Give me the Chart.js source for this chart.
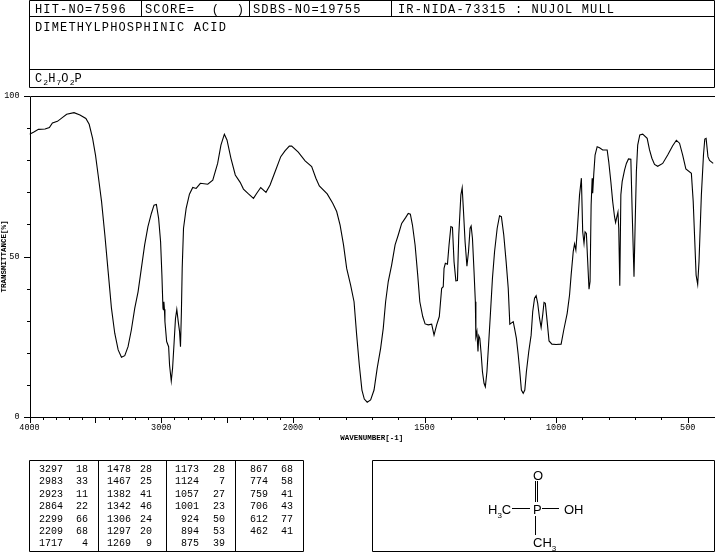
<!DOCTYPE html>
<html>
<head>
<meta charset="utf-8">
<script src="https://cdn.jsdelivr.net/npm/chart.js@4/dist/chart.umd.min.js"></script>
<style>
html, body { margin: 0; padding: 0; background: #fff; overflow: hidden; }
#wrap { position: relative; width: 715px; height: 553px; }
canvas, svg { position: absolute; left: 0; top: 0; }
.t { position: absolute; white-space: pre; color: #000; line-height: 12px; }
.head { font: 12px "Liberation Mono", monospace; letter-spacing: 1.15px; }
.num { font: 10px "Liberation Mono", monospace; text-align: right; width: 40px; }
.mol { font: 13px "Liberation Sans", sans-serif; }
sub { font-size: 8px; line-height: 0; letter-spacing: 0; }
</style>
</head>
<body>
<div id="wrap">
<canvas id="grafico" width="715" height="553"></canvas>
<svg width="715" height="553" fill="none" stroke="#000" stroke-width="1">
  <!-- header boxes -->
  <path d="M29.5 0.5H714.5V87.5H29.5Z M29.5 16.5H714.5 M29.5 69.5H714.5 M141.5 0.5V16.5 M249.5 0.5V16.5 M391.5 0.5V16.5"/>
  <!-- peak table -->
  <path d="M29.5 460.5H303.5V551.5H29.5Z M98.5 460.5V551.5 M166.5 460.5V551.5 M235.5 460.5V551.5"/>
  <!-- structure -->
  <path d="M372.5 460.5H714.5V551.5H372.5Z"/>
  <path d="M535.5 481V502 M537.5 481V502 M512 508.5H530 M542 508.5H559 M535.5 516V535"/>
</svg>
</div>
<script>
var numeros = ['4000', '3000', '2000', '1500', '1000', '500'];
var marcasY = [0, 10, 20, 30, 40, 50, 60, 70, 80, 90, 100];
var rotulosY = [0, 50, 100];

var cabecalho = ['HIT-NO=7596', 'SCORE=  (  )', 'SDBS-NO=19755', 'IR-NIDA-73315 : NUJOL MULL'];
var nome = 'DIMETHYLPHOSPHINIC ACID';
var formula = 'C<sub>2</sub>H<sub>7</sub>O<sub>2</sub>P';

var picosNumero = [
	[3297, 2983, 2923, 2864, 2299, 2209, 1717],
	[1478, 1467, 1382, 1342, 1306, 1297, 1269],
	[1173, 1124, 1057, 1001, 924, 894, 875],
	[867, 774, 759, 706, 612, 462]
];
var picosValor = [
	[18, 33, 11, 22, 66, 68, 4],
	[28, 25, 41, 46, 24, 20, 9],
	[28, 7, 27, 23, 50, 53, 39],
	[68, 58, 41, 43, 77, 41]
];

// curve
var numeroOnda = [
	4000, 3970, 3932, 3882, 3849, 3826, 3788, 3756, 3718, 3662, 3617, 3572, 3547, 3521, 3499, 3479, 3453, 3428, 3403, 3378,
	3353, 3327, 3302, 3277, 3252, 3227, 3201, 3176, 3151, 3126, 3101, 3075, 3055, 3037, 3020, 3005, 2995, 2987, 2984, 2980,
	2976, 2972, 2959, 2944, 2937, 2924, 2914, 2902, 2892, 2882, 2871, 2861, 2854, 2847, 2841, 2831, 2811, 2786, 2761, 2735,
	2703, 2647, 2609, 2572, 2547, 2521, 2501, 2471, 2438, 2401, 2376, 2338, 2300, 2275, 2245, 2205, 2174, 2136, 2093, 2061,
	2028, 2010, 1980, 1954, 1929, 1913, 1900, 1870, 1849, 1834, 1821, 1808, 1796, 1781, 1768, 1758, 1748, 1738, 1729, 1718,
	1705, 1692, 1680, 1667, 1657, 1648, 1638, 1625, 1612, 1600, 1587, 1572, 1562, 1554, 1546, 1536, 1526, 1518, 1507, 1498,
	1486, 1473, 1464, 1454, 1444, 1435, 1429, 1426, 1421, 1413, 1407, 1400, 1394, 1388, 1381, 1375, 1370, 1362, 1357, 1352,
	1346, 1339, 1333, 1327, 1323, 1318, 1312, 1307, 1305, 1301, 1297, 1294, 1290, 1285, 1280, 1274, 1269, 1263, 1256, 1250,
	1242, 1234, 1224, 1215, 1208, 1199, 1190, 1182, 1176, 1168, 1163, 1158, 1151, 1144, 1138, 1132, 1125, 1119, 1113, 1104,
	1095, 1089, 1082, 1076, 1070, 1063, 1057, 1051, 1046, 1041, 1034, 1027, 1016, 1000, 981, 971, 958, 949, 943, 935,
	930, 925, 919, 911, 904, 899, 894, 890, 885, 880, 875, 871, 867, 863, 861, 857, 852, 844, 835, 823,
	806, 800, 792, 785, 778, 774, 769, 765, 762, 758, 754, 749, 740, 733, 725, 716, 711, 704, 700, 695,
	690, 682, 671, 654, 645, 636, 626, 614, 595, 576, 557, 543, 531, 519, 507, 486, 479, 474, 468, 462,
	457, 448, 440, 435, 430, 423, 417, 403
];
var transmitancia = [
	88.1, 88.7, 89.6, 89.7, 90.2, 91.6, 92.1, 93.1, 94.3, 94.8, 94.1, 93.0, 91.2, 86.8, 81.6, 75.4, 67.1, 56.7, 45.3, 33.9,
	26.1, 20.9, 18.6, 19.1, 21.9, 27.1, 33.9, 39.0, 46.3, 53.6, 59.3, 63.4, 66.0, 66.2, 61.9, 54.6, 44.2, 33.9, 33.4, 35.9,
	33.6, 29.7, 23.5, 21.9, 16.2, 11.2, 15.2, 23.5, 30.7, 33.5, 29.7, 26.6, 21.9, 32.8, 46.3, 58.8, 65.0, 69.4, 71.5, 71.2,
	72.8, 72.5, 73.8, 79.0, 84.7, 88.1, 86.3, 80.6, 75.4, 73.1, 71.0, 69.5, 68.1, 69.7, 71.5, 70.0, 72.3, 76.4, 81.1, 82.9,
	84.4, 84.4, 82.5, 79.8, 78.0, 74.4, 72.0, 69.5, 66.6, 64.0, 59.8, 53.6, 46.3, 41.1, 35.9, 25.5, 16.2, 8.4, 5.6, 4.6,
	5.3, 8.4, 15.2, 21.4, 27.6, 35.9, 42.2, 47.4, 53.6, 56.7, 60.3, 62.1, 63.4, 63.2, 59.8, 53.6, 44.2, 35.9, 31.3, 29.0,
	28.7, 28.9, 25.5, 28.7, 31.3, 40.1, 40.6, 46.3, 47.9, 47.6, 53.6, 59.3, 59.1, 48.4, 42.4, 42.5, 56.7, 69.2, 71.4, 64.0,
	54.6, 47.0, 51.5, 58.8, 59.5, 55.7, 45.3, 35.9, 25.0, 26.6, 20.4, 25.3, 24.5, 19.8, 14.1, 10.5, 9.4, 14.1, 23.5, 31.8,
	43.2, 51.5, 58.8, 62.7, 62.4, 56.7, 48.4, 40.1, 28.9, 29.4, 29.7, 27.6, 24.5, 19.3, 14.1, 8.4, 7.4, 8.4, 14.1, 20.4,
	25.5, 32.8, 37.0, 37.8, 35.4, 30.7, 27.9, 31.8, 35.7, 35.4, 29.7, 23.7, 22.7, 22.6, 22.7, 27.1, 32.3, 38.0, 44.2, 51.5,
	53.9, 52.0, 58.8, 69.2, 74.4, 57.7, 54.1, 57.7, 57.2, 48.4, 39.8, 42.2, 66.0, 74.4, 69.7, 75.6, 81.6, 84.2, 83.9, 83.2,
	83.2, 79.5, 73.3, 67.1, 62.4, 60.6, 62.4, 63.8, 58.8, 40.9, 69.2, 73.3, 76.9, 79.0, 80.4, 80.3, 64.0, 43.7, 58.8, 76.4,
	84.7, 87.9, 88.1, 86.8, 83.2, 80.6, 78.7, 78.1, 79.0, 81.6, 84.5, 86.2, 85.3, 81.6, 77.3, 75.9, 67.1, 56.7, 44.2, 41.3,
	48.4, 69.2, 81.6, 86.6, 86.8, 81.1, 79.9, 79.0
];

var pontos = numeroOnda.map(function(n, i) { return { x: n, y: transmitancia[i] }; });

// the paper changes scale at 2000 cm-1
var QUEBRA = 263.5 / 684.5;

class EscalaIR extends Chart.LinearScale {
	getPixelForValue(v) {
		var f;
		if (v >= 2000) f = (4000 - v) / 2000 * QUEBRA;
		else f = QUEBRA + (2000 - v) / 1600 * (1 - QUEBRA);
		return this.left + f * this.width;
	}
	getValueForPixel(p) {
		var f = (p - this.left) / this.width;
		if (f <= QUEBRA) return 4000 - f / QUEBRA * 2000;
		return 2000 - (f - QUEBRA) / (1 - QUEBRA) * 1600;
	}
}
EscalaIR.id = 'escalaIR';
EscalaIR.defaults = Chart.LinearScale.defaults;
Chart.register(EscalaIR);

var marcas = {
	id: 'marcas',
	afterDraw: function(chart) {
		var ctx = chart.ctx, a = chart.chartArea, sx = chart.scales.x, sy = chart.scales.y;
		ctx.save();
		ctx.strokeStyle = '#000';
		ctx.lineWidth = 1;
		ctx.beginPath();
		// frame
		ctx.rect(Math.round(a.left) + 0.5, Math.round(a.top) + 0.5, Math.round(a.right - a.left), Math.round(a.bottom - a.top));
		for (var v = 4000; v >= 500; v -= 100) {
			var x = Math.round(sx.getPixelForValue(v)) + 0.5;
			ctx.moveTo(x, Math.round(a.bottom));
			ctx.lineTo(x, Math.round(a.bottom) + (v % 500 === 0 ? 6 : 3));
		}
		marcasY.forEach(function(m) {
			var y = Math.round(sy.getPixelForValue(m)) + 0.5;
			ctx.moveTo(Math.round(a.left), y);
			ctx.lineTo(Math.round(a.left) - (m % 50 === 0 ? 6 : 3), y);
		});
		ctx.stroke();
		ctx.restore();
	}
};

new Chart(document.getElementById('grafico').getContext('2d'), {
	type: 'line',
	data: {
		datasets: [{
			data: pontos,
			borderColor: '#000',
			borderWidth: 1.1,
			pointRadius: 0,
			tension: 0,
			fill: false
		}]
	},
	plugins: [marcas],
	options: {
		responsive: false,
		animation: false,
		devicePixelRatio: 1,
		layout: { padding: { left: 0, top: 96, right: 1, bottom: 110 } },
		plugins: { legend: { display: false }, tooltip: { enabled: false } },
		scales: {
			x: {
				type: 'escalaIR',
				min: 400,
				max: 4000,
				grid: { display: false, drawTicks: false },
				border: { display: false },
				afterFit: function(s) { s.height = 26; },
				afterBuildTicks: function(s) {
					s.ticks = numeros.map(function(n) { return { value: Number(n) }; });
				},
				ticks: {
					autoSkip: false,
					maxRotation: 0,
					padding: 6,
					color: '#000',
					font: { family: 'Liberation Mono', size: 8.5 },
					callback: function(v) { return String(v); }
				},
				title: {
					display: true,
					text: 'WAVENUMBER[-1]',
					color: '#000',
					padding: { top: 0, bottom: 0 },
					font: { family: 'Liberation Mono', size: 7.5, weight: 'bold' }
				}
			},
			y: {
				min: 0,
				max: 100,
				grid: { display: false, drawTicks: false },
				border: { display: false },
				afterFit: function(s) { s.width = 29.5; },
				afterBuildTicks: function(s) {
					s.ticks = rotulosY.map(function(n) { return { value: n }; });
				},
				ticks: {
					padding: 10,
					color: '#000',
					font: { family: 'Liberation Mono', size: 8.5 }
				},
				title: {
					display: true,
					text: 'TRANSMITTANCE[%]',
					color: '#000',
					padding: { top: 0, bottom: 0 },
					font: { family: 'Liberation Mono', size: 7.5, weight: 'bold' }
				}
			}
		}
	}
});

// texts around the chart
var wrap = document.getElementById('wrap');
function poe(html, classe, x, y) {
	var d = document.createElement('div');
	d.className = 't ' + classe;
	d.style.left = x + 'px';
	d.style.top = (y - 6) + 'px';
	d.innerHTML = html;
	wrap.appendChild(d);
}

var xCabecalho = [35, 145, 253, 398];
cabecalho.forEach(function(c, i) { poe(c, 'head', xCabecalho[i], 9); });
poe(nome, 'head', 35, 27);
poe(formula, 'head', 35, 78);

var xNumero = [23, 91, 159, 228];
var xValor = [48, 112, 185, 253];
picosNumero.forEach(function(col, c) {
	col.forEach(function(n, i) {
		var y = 470 + i * 12.4;
		poe(String(n), 'num', xNumero[c], y);
		poe(String(picosValor[c][i]), 'num', xValor[c], y);
	});
});

poe('O', 'mol', 533, 474);
poe('P', 'mol', 533, 508);
poe('H<sub>3</sub>C', 'mol', 488, 508);
poe('OH', 'mol', 564, 508);
poe('CH<sub>3</sub>', 'mol', 533, 541);
</script>
</body>
</html>
